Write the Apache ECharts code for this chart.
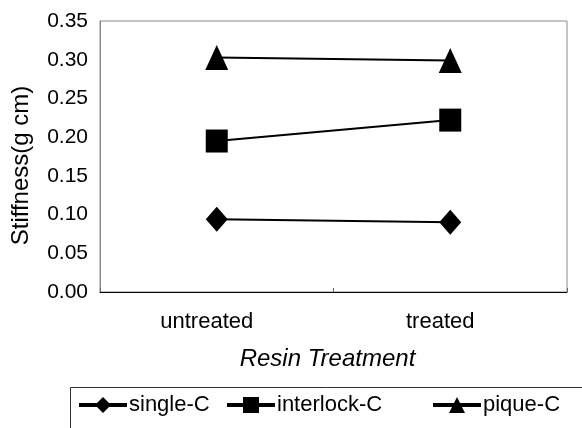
<!DOCTYPE html>
<html>
<head>
<meta charset="utf-8">
<script src="https://cdn.jsdelivr.net/npm/echarts@6/dist/echarts.min.js"></script>
<style>
html,body{margin:0;padding:0;background:#fff;}
#chart{width:582px;height:428px;}
</style>
</head>
<body>
<div id="chart"></div>
<script>
var categories = ['untreated', 'treated'];
var singleC = [0.094, 0.090];
var interlockC = [0.195, 0.222];
var piqueC = [0.303, 0.299];
var yTicks = { min: 0, max: 0.35, interval: 0.05 };
var seriesNames = ['single-C', 'interlock-C', 'pique-C'];

var FONT = '"Liberation Sans", Arial, sans-serif';
var chart = echarts.init(document.getElementById('chart'));

function mkSeries(name, data, symbol, size) {
  return {
    name: name,
    type: 'line',
    data: data,
    symbol: symbol,
    symbolSize: size,
    showSymbol: true,
    lineStyle: { color: '#000', width: 2 },
    itemStyle: { color: '#000' },
    emphasis: { disabled: true },
    animation: false
  };
}

function mkLegend(name, left) {
  return {
    data: [name],
    left: left,
    top: 394,
    padding: 0,
    itemWidth: 48,
    itemHeight: 20,
    itemGap: 0,
    textStyle: { fontFamily: FONT, fontSize: 22, color: '#000', padding: [0, 0, 0, -3] },
    lineStyle: { width: 4, color: '#000' },
    itemStyle: { color: '#000' }
  };
}

chart.setOption({
  backgroundColor: '#fff',
  animation: false,
  grid: {
    left: 100, right: 15, top: 21, bottom: 136,
    show: true, borderColor: '#8a8a8a', borderWidth: 1, backgroundColor: 'transparent'
  },
  graphic: [{
    type: 'rect',
    shape: { x: 70.5, y: 387.5, width: 530, height: 60 },
    style: { fill: 'none', stroke: '#333', lineWidth: 1 },
    silent: true
  }],
  legend: [
    mkLegend(seriesNames[0], 77),
    mkLegend(seriesNames[1], 225),
    mkLegend(seriesNames[2], 431)
  ],
  xAxis: {
    type: 'category',
    data: categories,
    boundaryGap: true,
    name: 'Resin Treatment',
    nameLocation: 'middle',
    nameGap: 55,
    nameTextStyle: { fontFamily: FONT, fontSize: 24, fontStyle: 'italic', color: '#000', padding: [0, 12, 0, 0] },
    axisLine: { show: true, lineStyle: { color: '#000', width: 1 } },
    axisTick: { show: true, inside: true, length: 4, lineStyle: { color: '#666' } },
    axisLabel: { fontFamily: FONT, fontSize: 22, color: '#000', margin: 19, padding: [0, 20, 0, 0] },
    splitLine: { show: false }
  },
  yAxis: {
    type: 'value',
    min: yTicks.min,
    max: yTicks.max,
    interval: yTicks.interval,
    name: 'Stiffness(g cm)',
    nameLocation: 'middle',
    nameGap: 67,
    nameRotate: 90,
    nameTextStyle: { fontFamily: FONT, fontSize: 24, color: '#000', padding: [0, 0, 0, -18] },
    axisLine: { show: true, lineStyle: { color: '#8a8a8a', width: 1 } },
    axisTick: { show: false },
    axisLabel: {
      fontFamily: FONT, fontSize: 21, color: '#000', margin: 12,
      formatter: function (v) { return v.toFixed(2); }
    },
    splitLine: { show: false }
  },
  series: [
    mkSeries(seriesNames[0], singleC, 'diamond', [22, 25]),
    mkSeries(seriesNames[1], interlockC, 'rect', [22, 23]),
    mkSeries(seriesNames[2], piqueC, 'triangle', [23, 25])
  ]
});
</script>
</body>
</html>
